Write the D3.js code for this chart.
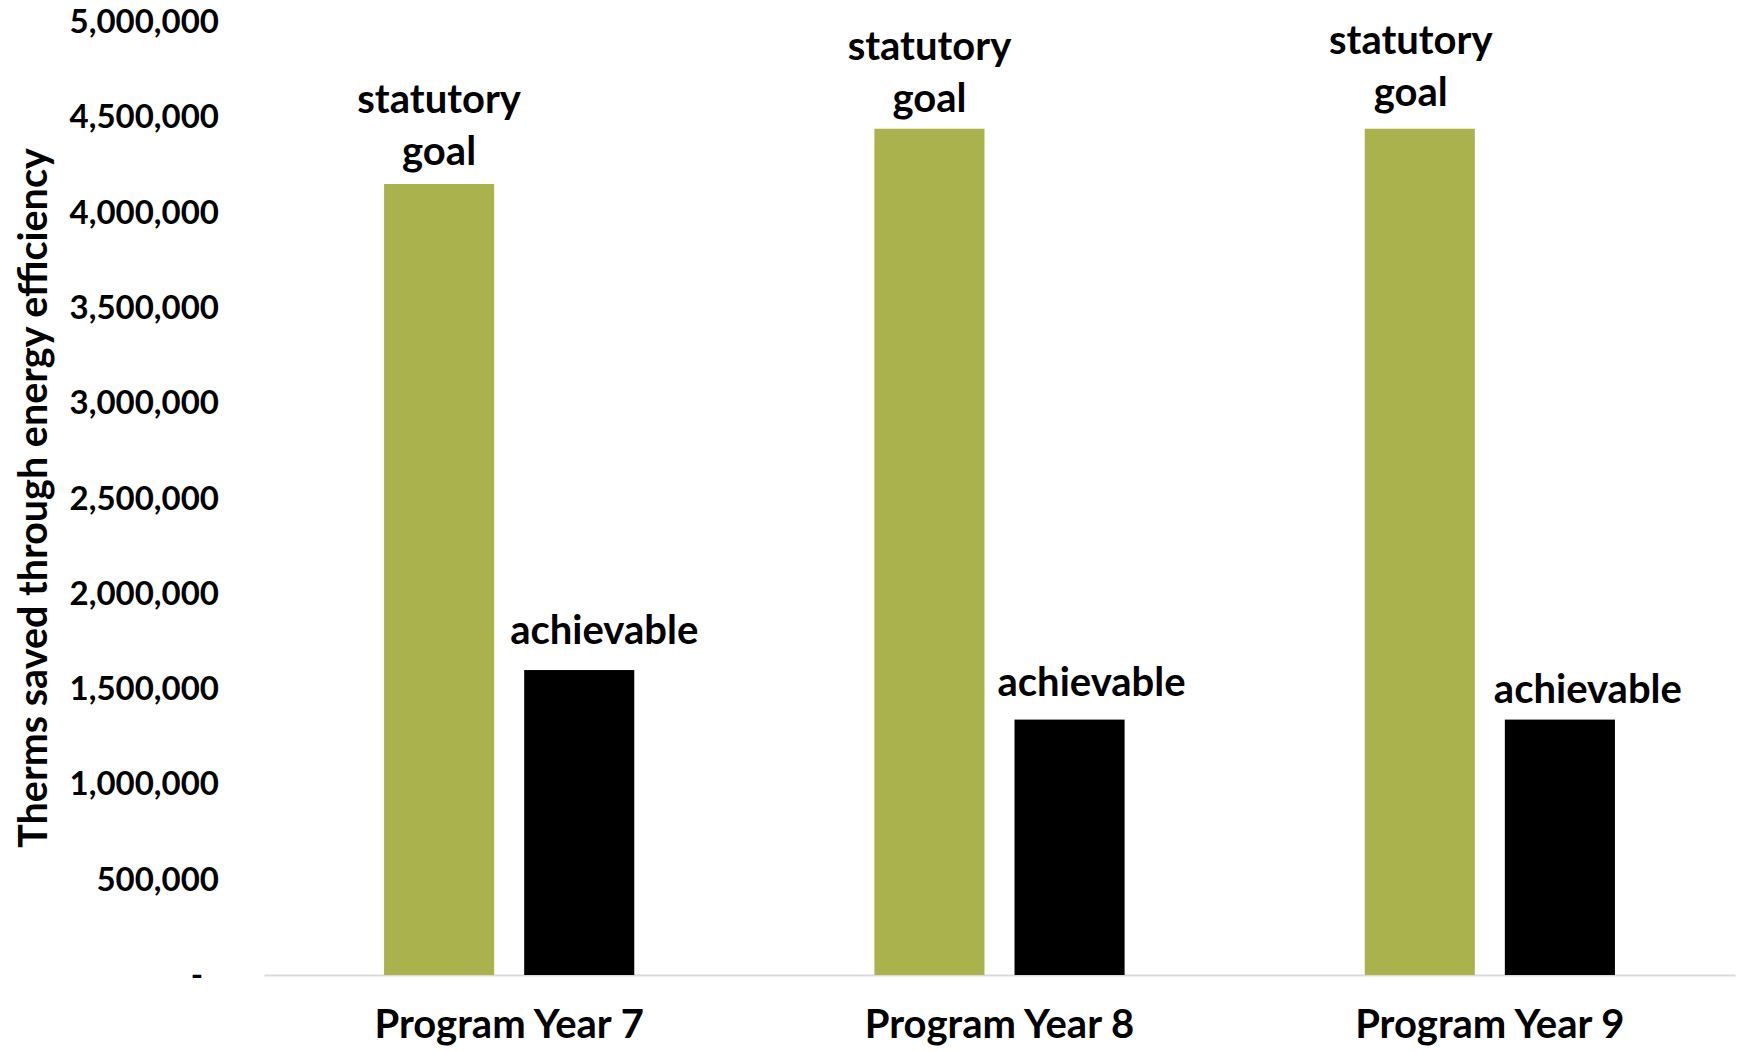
<!DOCTYPE html>
<html><head><meta charset="utf-8">
<script src="https://cdn.jsdelivr.net/npm/d3@7"></script>
<style>body{margin:0;background:#fff}svg{display:block}</style>
</head><body>
<svg id="chart" width="1746" height="1051"></svg>
<script>
// ---- data ----
const categories = ["Program Year 7", "Program Year 8", "Program Year 9"];
const seriesNames = ["statutory goal", "achievable"];
const statutoryGoal = [4150000, 4440000, 4440000];
const achievable = [1600000, 1340000, 1340000];
const yTicks = [0, 500000, 1000000, 1500000, 2000000, 2500000, 3000000, 3500000, 4000000, 4500000, 5000000];
const yTitle = "Therms saved through energy efficiency";
const goalLabelLines = ["statutory", "goal"];
const achievableLabel = "achievable";

// ---- layout (label placement as in the original, manually placed) ----
const goalLabelOffsets = [[0, -34], [0, -32], [-9, -38]];
const achLabelOffsets = [[25, -41], [22, -39], [28, -32]];

const W = 1746, H = 1051;
const plot = {left: 264, right: 1735, top: 22, bottom: 975};
const FONT = "Lato, 'Open Sans', sans-serif";
const colors = {"statutory goal": "#A9B24D", "achievable": "#000000"};

const svg = d3.select("#chart");
svg.append("rect").attr("width", W).attr("height", H).attr("fill", "#fff");

const x0 = d3.scaleBand().domain(categories).range([plot.left, plot.right]);
const x1 = d3.scaleBand().domain(seriesNames).range([0, x0.bandwidth()])
  .paddingInner(30 / 140).paddingOuter(0.857);
const y = d3.scaleLinear().domain([0, 5000000]).range([plot.bottom, plot.top]);

// y axis
const yAxis = svg.append("g").attr("transform", `translate(${plot.left},0)`)
  .call(d3.axisLeft(y).tickValues(yTicks).tickSize(0).tickPadding(45)
    .tickFormat(d => d === 0 ? "-" : d3.format(",")(d)));
yAxis.select(".domain").remove();
yAxis.selectAll("text")
  .attr("font-family", FONT).attr("font-weight", "bold").attr("font-size", 33)
  .attr("fill", "#000")
  .attr("dx", d => d === 0 ? -16 : 0);

// x axis
const xAxis = svg.append("g").attr("transform", `translate(0,${plot.bottom})`)
  .call(d3.axisBottom(x0).tickSize(0).tickSizeOuter(0).tickPadding(35));
xAxis.select(".domain").attr("stroke", "#d9d9d9").attr("stroke-width", 2);
xAxis.selectAll("text")
  .attr("font-family", FONT).attr("font-weight", "bold").attr("font-size", 40)
  .attr("fill", "#000");

// bars
const rows = categories.map((c, i) => ({cat: c, i, vals: [
  {s: "statutory goal", v: statutoryGoal[i]},
  {s: "achievable", v: achievable[i]}
]}));

const groups = svg.append("g").selectAll("g").data(rows).join("g")
  .attr("transform", d => `translate(${x0(d.cat)},0)`);
groups.selectAll("rect").data(d => d.vals).join("rect")
  .attr("x", d => x1(d.s))
  .attr("y", d => y(d.v))
  .attr("width", x1.bandwidth())
  .attr("height", d => y(0) - y(d.v))
  .attr("fill", d => colors[d.s]);

// labels
const lab = svg.append("g").attr("font-family", FONT).attr("font-weight", "bold")
  .attr("font-size", 40).attr("fill", "#000").attr("text-anchor", "middle");

rows.forEach(r => {
  const gx = x0(r.cat) + x1("statutory goal") + x1.bandwidth() / 2 + goalLabelOffsets[r.i][0];
  const gy = y(statutoryGoal[r.i]) + goalLabelOffsets[r.i][1];
  lab.append("text").attr("x", gx).attr("y", gy - 52).attr("dominant-baseline", "central").text(goalLabelLines[0]);
  lab.append("text").attr("x", gx).attr("y", gy).attr("dominant-baseline", "central").text(goalLabelLines[1]);
  const ax = x0(r.cat) + x1("achievable") + x1.bandwidth() / 2 + achLabelOffsets[r.i][0];
  const ay = y(achievable[r.i]) + achLabelOffsets[r.i][1];
  lab.append("text").attr("x", ax).attr("y", ay).attr("dominant-baseline", "central").text(achievableLabel);
});

// y title
svg.append("text")
  .attr("transform", `translate(31,${(150 + 846) / 2}) rotate(-90)`)
  .attr("text-anchor", "middle").attr("dominant-baseline", "central")
  .attr("font-family", FONT).attr("font-weight", "bold").attr("font-size", 39.5)
  .attr("fill", "#000").text(yTitle);
</script>
</body></html>
